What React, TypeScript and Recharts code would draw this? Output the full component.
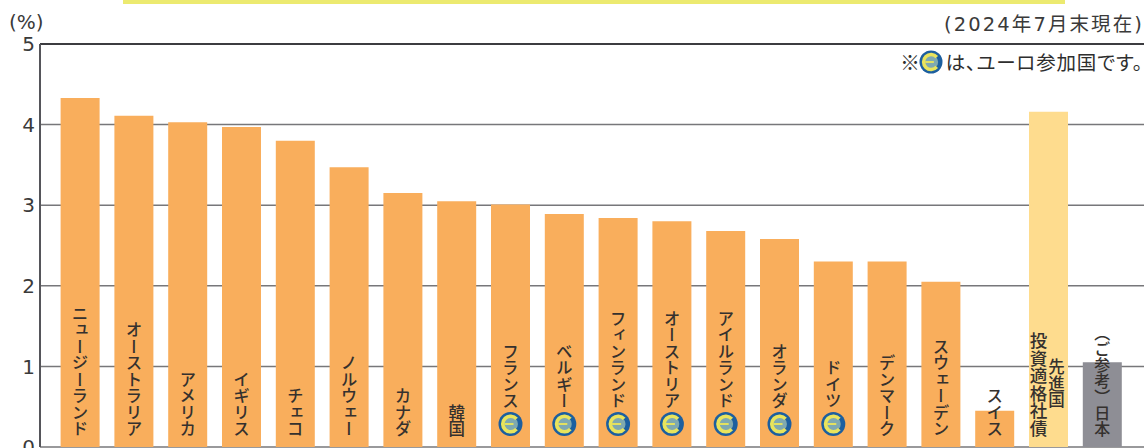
import React from "react";
import { BarChart, Bar, XAxis, YAxis, CartesianGrid, Cell, LabelList, ReferenceLine } from "recharts";

const categories = ["ニュージーランド","オーストラリア","アメリカ","イギリス","チェコ","ノルウェー","カナダ","韓国","フランス","ベルギー","フィンランド","オーストリア","アイルランド","オランダ","ドイツ","デンマーク","スウェーデン","スイス","先進国 投資適格社債","（ご参考）日本"];
const yields = [4.33,4.11,4.03,3.97,3.80,3.47,3.15,3.05,3.01,2.89,2.84,2.80,2.68,2.58,2.30,2.30,2.05,0.45,4.16,1.05];
const euroMembers = ["フランス","ベルギー","フィンランド","オーストリア","アイルランド","オランダ","ドイツ"];
const yTicks = [0,1,2,3,4,5];

const ORANGE = "#f9ae5c";
const PALE = "#fedc8e";
const GREY = "#8e8e95";
const INK = "#35312e";
const JP = '"Noto Sans CJK JP", sans-serif';
const LATIN = '"DejaVu Sans", "Noto Sans CJK JP", sans-serif';

const rows = categories.map((name, i) => ({ name, value: yields[i] }));

const barColor = (name: string) => name.startsWith("先進国") ? PALE : name.startsWith("（ご") ? GREY : ORANGE;

function EuroMark({ cx, cy, r }: { cx: number; cy: number; r: number }) {
  return (
    <g>
      <circle cx={cx} cy={cy} r={r} fill="#1c5f9f" />
      <circle cx={cx} cy={cy} r={r * 0.62} fill="#7fa9b0" />
      <path
        d={`M ${cx + r * 0.5} ${cy - r * 0.42} A ${r * 0.65} ${r * 0.65} 0 1 0 ${cx + r * 0.5} ${cy + r * 0.42}`}
        fill="none" stroke="#e9e45c" strokeWidth={r * 0.3}
      />
      <line x1={cx - r * 0.5} x2={cx + r * 0.25} y1={cy} y2={cy} stroke="#e9e45c" strokeWidth={r * 0.16} />
    </g>
  );
}

function VText({ x, y, children, size = 16.5 }: { x: number; y: number; children: string; size?: number }) {
  return (
    <text x={x} y={y} fill={INK} fontFamily={JP} fontSize={size} fontWeight={500} textAnchor="end"
      style={{ writingMode: "vertical-rl", textOrientation: "upright" } as React.CSSProperties}>
      {children}
    </text>
  );
}

function BarName(props: any) {
  const { x, y, width, height, index } = props;
  const name = categories[index];
  const cx = x + width / 2;
  const base = y + height;
  if (name.startsWith("先進国")) {
    const [a, b] = name.split(" ");
    return (
      <g>
        <VText x={cx + 8} y={base - 39} size={16.5}>{a}</VText>
        <VText x={cx - 10} y={base - 10} size={17.5}>{b}</VText>
      </g>
    );
  }
  const euro = euroMembers.includes(name);
  return (
    <g>
      <VText x={cx} y={base - (euro ? 38 : 10)} size={name.startsWith("（ご") ? 16 : 16.5}>{name}</VText>
      {euro && <EuroMark cx={cx} cy={base - 23} r={12} />}
    </g>
  );
}

export default function App() {
  return (
    <div style={{ position: "absolute", left: 0, top: 0, width: 1144, height: 448, overflow: "hidden", background: "#fff", fontFamily: JP }}>
      <div style={{ position: "absolute", left: 123, top: 0, width: 942, height: 4, background: "#ecea70" }} />
      <BarChart width={1144} height={448} data={rows} margin={{ top: 44, right: 0, bottom: 1, left: 0 }} barCategoryGap={0}>
        <CartesianGrid horizontal vertical={false} stroke="#77777a" strokeWidth={1.5} />
        <XAxis dataKey="name" hide padding={{ left: 13.6, right: 14.4 }} />
        <YAxis domain={[0, 5]} ticks={yTicks} width={40} tickLine={false} interval={0} tickSize={5} tickMargin={0}
          axisLine={{ stroke: "#55555a", strokeWidth: 2 }}
          tick={{ fill: "#3a3a3a", fontSize: 20, fontFamily: '"DejaVu Sans", sans-serif' }} />
        <ReferenceLine y={5} stroke="#3c3c40" strokeWidth={2} />
        <Bar dataKey="value" barSize={39} isAnimationActive={false}>
          {rows.map((r) => <Cell key={r.name} fill={barColor(r.name)} />)}
          <LabelList dataKey="value" content={BarName} />
        </Bar>
      </BarChart>
      <div style={{ position: "absolute", left: 9, top: 10, fontSize: 20, fontFamily: LATIN, color: "#3a3a3a", lineHeight: "24px", whiteSpace: "nowrap" }}>(%)</div>
      <div style={{ position: "absolute", right: 0, top: 13, fontSize: 19.5, fontFamily: LATIN, letterSpacing: 2.1, color: "#3a3a3a", lineHeight: "24px", whiteSpace: "nowrap" }}>(2024年7月末現在)</div>
      <div style={{ position: "absolute", right: 1, top: 50, fontSize: 19.5, color: "#2e2e2e", lineHeight: "24px", whiteSpace: "nowrap", display: "flex", alignItems: "center", fontFeatureSettings: '"palt"' }}>
        <span>※</span>
        <svg width={24} height={24} style={{ margin: "0 3px 0 -1px" }}><EuroMark cx={12} cy={12} r={11.5} /></svg>
        <span style={{ letterSpacing: 0.8 }}>は、ユーロ参加国です。</span>
      </div>
    </div>
  );
}
